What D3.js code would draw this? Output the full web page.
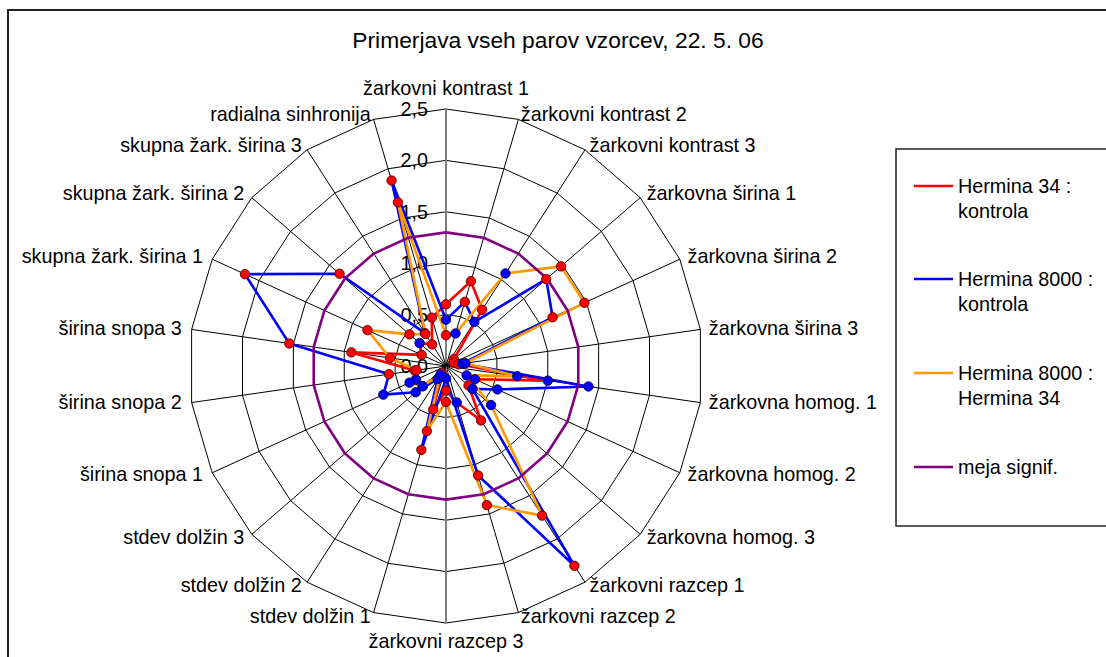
<!DOCTYPE html>
<html><head><meta charset="utf-8">
<script src="https://cdn.jsdelivr.net/npm/d3@7"></script>
<style>body{margin:0;background:#fff;}svg{display:block;font-family:"Liberation Sans",Arial,sans-serif;}</style>
</head><body>
<svg id="chart" width="1106" height="657"></svg>
<script>
const categories = ["žarkovni kontrast 1","žarkovni kontrast 2","žarkovni kontrast 3","žarkovna širina 1","žarkovna širina 2","žarkovna širina 3","žarkovna homog. 1","žarkovna homog. 2","žarkovna homog. 3","žarkovni razcep 1","žarkovni razcep 2","žarkovni razcep 3","stdev dolžin 1","stdev dolžin 2","stdev dolžin 3","širina snopa 1","širina snopa 2","širina snopa 3","skupna žark. širina 1","skupna žark. širina 2","skupna žark. širina 3","radialna sinhronija"];
const hermina34Kontrola   = [0.60,0.86,0.65,0.10,0.08,0.12,1.00,0.31,0.29,0.63,0.37,0.24,0.44,0.08,0.30,0.32,0.31,0.93,0.26,0.34,0.25,0.49];
const hermina8000Kontrola = [0.45,0.65,0.51,1.29,1.14,0.16,1.40,0.55,0.34,2.31,1.11,0.12,0.85,0.15,0.39,0.67,0.56,1.54,2.15,1.37,0.38,1.88];
const hermina8000H34      = [0.30,0.33,1.07,1.48,1.48,0.19,0.70,0.22,0.58,1.73,1.41,0.35,0.66,0.10,0.30,0.39,0.29,0.55,0.84,0.47,0.37,1.66];
const mejaSignif          = [1.3,1.3,1.3,1.3,1.3,1.3,1.3,1.3,1.3,1.3,1.3,1.3,1.3,1.3,1.3,1.3,1.3,1.3,1.3,1.3,1.3,1.3];
// significance flags (1 = significant point, drawn with red marker)
const sig34K   = [1,1,1,1,1,1,0,0,1,1,0,1,1,1,0,0,1,1,1,0,1,1];
const sig8000K = [0,1,0,1,1,0,0,0,0,1,1,0,1,0,0,0,1,1,1,1,1,1];
const sig8000H = [1,0,0,1,1,0,0,0,0,1,1,1,1,0,0,0,1,1,1,1,1,1];
const tickValues = [0,0.5,1,1.5,2,2.5];
const tickLabels = ["0,0","0,5","1,0","1,5","2,0","2,5"];
const seriesNames = [["Hermina 34 :","kontrola"],["Hermina 8000 :","kontrola"],["Hermina 8000 :","Hermina 34"],["meja signif."]];
const title = "Primerjava vseh parov vzorcev, 22. 5. 06";

const series = [
  {values: hermina34Kontrola, sig: sig34K, color: "#FF0000"},
  {values: hermina8000Kontrola, sig: sig8000K, color: "#0000FF"},
  {values: hermina8000H34, sig: sig8000H, color: "#FF9900"},
  {values: mejaSignif, sig: null, color: "#800080"}
];

const FS = 19.8;
const svg = d3.select("#chart");
const cx = 446, cy = 366, R = 257;
const N = categories.length;
const r = d3.scaleLinear().domain([0, 2.5]).range([0, R]);
const ang = d3.scaleLinear().domain([0, N]).range([0, 2*Math.PI]);
const px = (i, v) => cx + r(v)*Math.sin(ang(i));
const py = (i, v) => cy - r(v)*Math.cos(ang(i));

// outer frame
svg.append("rect").attr("x",8).attr("y",10).attr("width",1110).attr("height",660)
  .attr("fill","none").attr("stroke","#222").attr("stroke-width",2);

svg.append("text").attr("x",558).attr("y",48).attr("text-anchor","middle")
  .attr("font-size",22.8).attr("fill","#000").text(title);

const g = svg.append("g");
// rings
tickValues.filter(v=>v>0).forEach(v=>{
  const pts = d3.range(N).map(i=>[px(i,v),py(i,v)]);
  g.append("path").attr("d", d3.line()(pts)+"Z").attr("fill","none").attr("stroke","#000").attr("stroke-width",1);
});
// spokes
d3.range(N).forEach(i=>{
  const isAxis = (i===0 || i===N/2);
  g.append("line").attr("x1",cx).attr("y1",cy).attr("x2",px(i,2.5)).attr("y2",py(i,2.5))
    .attr("stroke", isAxis ? "#808080" : "#000").attr("stroke-width", isAxis ? 2 : 1);
});
// tick labels
tickValues.forEach((v,k)=>{
  g.append("text").attr("x",cx-18).attr("y",cy - r(v) + 7).attr("text-anchor","end")
    .attr("font-size",FS).attr("fill","#000").text(tickLabels[k]);
});
// category labels
categories.forEach((c,i)=>{
  const a = ang(i), s = Math.sin(a), co = Math.cos(a);
  const vx = px(i,2.5), vy = py(i,2.5);
  let anchor = "middle", x = vx, y = vy - 5*co + 6;
  if (Math.abs(s) < 1e-6) { y = co > 0 ? vy - 14 : vy + 25; }
  else if (s > 0) { anchor = "start"; x = vx + 8.5*s; }
  else { anchor = "end"; x = vx + 10*s; }
  g.append("text").attr("x",x).attr("y",y).attr("text-anchor",anchor)
    .attr("font-size",FS).attr("fill","#000").text(c);
});

const radial = d3.lineRadial().angle((d,i)=>ang(i)).radius(d=>r(d)).curve(d3.curveLinearClosed);
const lines = svg.append("g").attr("transform",`translate(${cx},${cy})`);
series.forEach(s=>{
  lines.append("path").attr("d", radial(s.values)).attr("fill","none")
    .attr("stroke", s.color).attr("stroke-width",2.6).attr("stroke-linejoin","round");
});
const marks = svg.append("g");
series.filter(s=>s.sig).forEach(s=>{
  s.values.forEach((v,i)=>{
    const red = s.sig[i]===1;
    marks.append("circle").attr("cx",px(i,v)).attr("cy",py(i,v)).attr("r",4.7)
      .attr("fill", red ? "#FF0000" : "#0000FF").attr("stroke", red ? "#550000" : "#000044").attr("stroke-width",0.9);
  });
});

// legend
const lg = svg.append("g");
lg.append("rect").attr("x",896).attr("y",149).attr("width",230).attr("height",377)
  .attr("fill","#fff").attr("stroke","#222").attr("stroke-width",1.5);
const legY = [186, 279, 373, 467];
series.forEach((s,k)=>{
  lg.append("line").attr("x1",914).attr("x2",953).attr("y1",legY[k]).attr("y2",legY[k])
    .attr("stroke",s.color).attr("stroke-width",2.6);
  seriesNames[k].forEach((t,j)=>{
    lg.append("text").attr("x",958).attr("y",legY[k]+7+j*25).attr("font-size",FS).attr("fill","#000").text(t);
  });
});
</script>
</body></html>
